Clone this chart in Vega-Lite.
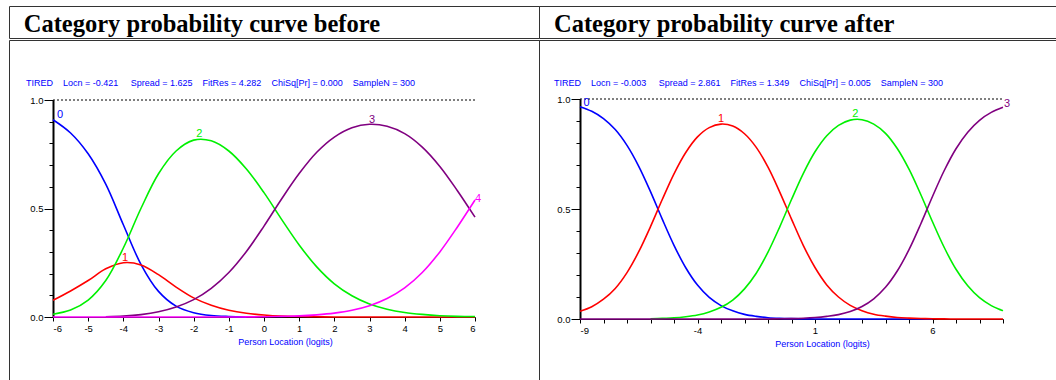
{
  "$schema": "https://vega.github.io/schema/vega-lite/v6.json",
  "background": "white",
  "padding": {"left": 8, "top": 5, "right": 0, "bottom": 0},
  "spacing": 0,
  "config": {
    "view": {"stroke": "#333333", "strokeWidth": 1},
    "concat": {"spacing": 0},
    "axis": {"grid": false, "labelFont": "Liberation Sans", "labelFontSize": 9.5, "labelColor": "black", "tickColor": "black", "domainColor": "black", "titleFont": "Liberation Sans"}
  },
  "datasets": {
    "before": [
      {"x": -6, "p": 0.909, "cat": "0"}, {"x": -5.5, "p": 0.848, "cat": "0"}, {"x": -5, "p": 0.752, "cat": "0"}, {"x": -4.5, "p": 0.612, "cat": "0"}, {"x": -4, "p": 0.425, "cat": "0"}, {"x": -3.5, "p": 0.243, "cat": "0"}, {"x": -3, "p": 0.118, "cat": "0"}, {"x": -2.5, "p": 0.05, "cat": "0"}, {"x": -2, "p": 0.02, "cat": "0"}, {"x": -1.5, "p": 0.007, "cat": "0"}, {"x": -1, "p": 0.0025, "cat": "0"}, {"x": -0.5, "p": 0.0008, "cat": "0"},
      {"x": -6, "p": 0.077, "cat": "1"}, {"x": -5.5, "p": 0.12, "cat": "1"}, {"x": -5, "p": 0.168, "cat": "1"}, {"x": -4.5, "p": 0.222, "cat": "1"}, {"x": -4, "p": 0.25, "cat": "1"}, {"x": -3.5, "p": 0.24, "cat": "1"}, {"x": -3, "p": 0.195, "cat": "1"}, {"x": -2.5, "p": 0.138, "cat": "1"}, {"x": -2, "p": 0.088, "cat": "1"}, {"x": -1.5, "p": 0.054, "cat": "1"}, {"x": -1, "p": 0.031, "cat": "1"}, {"x": -0.5, "p": 0.017, "cat": "1"}, {"x": 0, "p": 0.009, "cat": "1"}, {"x": 0.5, "p": 0.004, "cat": "1"}, {"x": 1, "p": 0.002, "cat": "1"}, {"x": 1.5, "p": 0.001, "cat": "1"}, {"x": 2, "p": 0, "cat": "1"}, {"x": 2.5, "p": 0, "cat": "1"}, {"x": 3, "p": 0, "cat": "1"}, {"x": 3.5, "p": 0, "cat": "1"}, {"x": 4, "p": 0, "cat": "1"}, {"x": 4.5, "p": 0, "cat": "1"}, {"x": 5, "p": 0, "cat": "1"}, {"x": 5.5, "p": 0, "cat": "1"}, {"x": 6, "p": 0, "cat": "1"},
      {"x": -6, "p": 0.013, "cat": "2"}, {"x": -5.5, "p": 0.032, "cat": "2"}, {"x": -5, "p": 0.078, "cat": "2"}, {"x": -4.5, "p": 0.168, "cat": "2"}, {"x": -4, "p": 0.318, "cat": "2"}, {"x": -3.5, "p": 0.5, "cat": "2"}, {"x": -3, "p": 0.66, "cat": "2"}, {"x": -2.5, "p": 0.765, "cat": "2"}, {"x": -2, "p": 0.815, "cat": "2"}, {"x": -1.5, "p": 0.812, "cat": "2"}, {"x": -1, "p": 0.765, "cat": "2"}, {"x": -0.5, "p": 0.682, "cat": "2"}, {"x": 0, "p": 0.573, "cat": "2"}, {"x": 0.5, "p": 0.45, "cat": "2"}, {"x": 1, "p": 0.332, "cat": "2"}, {"x": 1.5, "p": 0.231, "cat": "2"}, {"x": 2, "p": 0.153, "cat": "2"}, {"x": 2.5, "p": 0.098, "cat": "2"}, {"x": 3, "p": 0.06, "cat": "2"}, {"x": 3.5, "p": 0.036, "cat": "2"}, {"x": 4, "p": 0.021, "cat": "2"}, {"x": 4.5, "p": 0.012, "cat": "2"}, {"x": 5, "p": 0.006, "cat": "2"}, {"x": 5.5, "p": 0.003, "cat": "2"}, {"x": 6, "p": 0.002, "cat": "2"},
      {"x": -4.5, "p": 0.001, "cat": "3"}, {"x": -4, "p": 0.004, "cat": "3"}, {"x": -3.5, "p": 0.011, "cat": "3"}, {"x": -3, "p": 0.024, "cat": "3"}, {"x": -2.5, "p": 0.046, "cat": "3"}, {"x": -2, "p": 0.08, "cat": "3"}, {"x": -1.5, "p": 0.132, "cat": "3"}, {"x": -1, "p": 0.205, "cat": "3"}, {"x": -0.5, "p": 0.302, "cat": "3"}, {"x": 0, "p": 0.419, "cat": "3"}, {"x": 0.5, "p": 0.544, "cat": "3"}, {"x": 1, "p": 0.661, "cat": "3"}, {"x": 1.5, "p": 0.759, "cat": "3"}, {"x": 2, "p": 0.829, "cat": "3"}, {"x": 2.5, "p": 0.872, "cat": "3"}, {"x": 3, "p": 0.888, "cat": "3"}, {"x": 3.5, "p": 0.879, "cat": "3"}, {"x": 4, "p": 0.845, "cat": "3"}, {"x": 4.5, "p": 0.783, "cat": "3"}, {"x": 5, "p": 0.694, "cat": "3"}, {"x": 5.5, "p": 0.582, "cat": "3"}, {"x": 6, "p": 0.46, "cat": "3"},
      {"x": -6, "p": 0, "cat": "4"}, {"x": -5.5, "p": 0, "cat": "4"}, {"x": -5, "p": 0, "cat": "4"}, {"x": -4.5, "p": 0, "cat": "4"}, {"x": -4, "p": 0, "cat": "4"}, {"x": -3.5, "p": 0, "cat": "4"}, {"x": -3, "p": 0, "cat": "4"}, {"x": -2.5, "p": 0, "cat": "4"}, {"x": -2, "p": 0, "cat": "4"}, {"x": -1.5, "p": 0, "cat": "4"}, {"x": -1, "p": 0.0002, "cat": "4"}, {"x": -0.5, "p": 0.0005, "cat": "4"}, {"x": 0, "p": 0.001, "cat": "4"}, {"x": 0.5, "p": 0.003, "cat": "4"}, {"x": 1, "p": 0.005, "cat": "4"}, {"x": 1.5, "p": 0.01, "cat": "4"}, {"x": 2, "p": 0.018, "cat": "4"}, {"x": 2.5, "p": 0.031, "cat": "4"}, {"x": 3, "p": 0.052, "cat": "4"}, {"x": 3.5, "p": 0.085, "cat": "4"}, {"x": 4, "p": 0.134, "cat": "4"}, {"x": 4.5, "p": 0.205, "cat": "4"}, {"x": 5, "p": 0.3, "cat": "4"}, {"x": 5.5, "p": 0.415, "cat": "4"}, {"x": 6, "p": 0.539, "cat": "4"}
    ],
    "after": [
      {"x": -9, "p": 0.965, "cat": "0"}, {"x": -8.5, "p": 0.944, "cat": "0"}, {"x": -8, "p": 0.911, "cat": "0"}, {"x": -7.5, "p": 0.861, "cat": "0"}, {"x": -7, "p": 0.789, "cat": "0"}, {"x": -6.5, "p": 0.694, "cat": "0"}, {"x": -6, "p": 0.579, "cat": "0"}, {"x": -5.5, "p": 0.454, "cat": "0"}, {"x": -5, "p": 0.335, "cat": "0"}, {"x": -4.5, "p": 0.233, "cat": "0"}, {"x": -4, "p": 0.154, "cat": "0"}, {"x": -3.5, "p": 0.098, "cat": "0"}, {"x": -3, "p": 0.061, "cat": "0"}, {"x": -2.5, "p": 0.037, "cat": "0"}, {"x": -2, "p": 0.021, "cat": "0"}, {"x": -1.5, "p": 0.012, "cat": "0"}, {"x": -1, "p": 0.006, "cat": "0"}, {"x": -0.5, "p": 0.003, "cat": "0"}, {"x": 0, "p": 0.0015, "cat": "0"}, {"x": 0.5, "p": 0.0007, "cat": "0"}, {"x": 1, "p": 0.0003, "cat": "0"}, {"x": 1.5, "p": 0.0001, "cat": "0"}, {"x": 2, "p": 0, "cat": "0"}, {"x": 2.5, "p": 0, "cat": "0"}, {"x": 3, "p": 0, "cat": "0"}, {"x": 3.5, "p": 0, "cat": "0"}, {"x": 4, "p": 0, "cat": "0"}, {"x": 4.5, "p": 0, "cat": "0"}, {"x": 5, "p": 0, "cat": "0"}, {"x": 5.5, "p": 0, "cat": "0"}, {"x": 6, "p": 0, "cat": "0"},
      {"x": -9, "p": 0.035, "cat": "1"}, {"x": -8.5, "p": 0.056, "cat": "1"}, {"x": -8, "p": 0.09, "cat": "1"}, {"x": -7.5, "p": 0.139, "cat": "1"}, {"x": -7, "p": 0.211, "cat": "1"}, {"x": -6.5, "p": 0.306, "cat": "1"}, {"x": -6, "p": 0.42, "cat": "1"}, {"x": -5.5, "p": 0.543, "cat": "1"}, {"x": -5, "p": 0.66, "cat": "1"}, {"x": -4.5, "p": 0.757, "cat": "1"}, {"x": -4, "p": 0.828, "cat": "1"}, {"x": -3.5, "p": 0.87, "cat": "1"}, {"x": -3, "p": 0.886, "cat": "1"}, {"x": -2.5, "p": 0.877, "cat": "1"}, {"x": -2, "p": 0.842, "cat": "1"}, {"x": -1.5, "p": 0.78, "cat": "1"}, {"x": -1, "p": 0.69, "cat": "1"}, {"x": -0.5, "p": 0.577, "cat": "1"}, {"x": 0, "p": 0.454, "cat": "1"}, {"x": 0.5, "p": 0.335, "cat": "1"}, {"x": 1, "p": 0.234, "cat": "1"}, {"x": 1.5, "p": 0.155, "cat": "1"}, {"x": 2, "p": 0.1, "cat": "1"}, {"x": 2.5, "p": 0.062, "cat": "1"}, {"x": 3, "p": 0.038, "cat": "1"}, {"x": 3.5, "p": 0.022, "cat": "1"}, {"x": 4, "p": 0.013, "cat": "1"}, {"x": 4.5, "p": 0.007, "cat": "1"}, {"x": 5, "p": 0.004, "cat": "1"}, {"x": 5.5, "p": 0.002, "cat": "1"}, {"x": 6, "p": 0.001, "cat": "1"}, {"x": 6.5, "p": 0.0004, "cat": "1"}, {"x": 7, "p": 0.0002, "cat": "1"}, {"x": 7.5, "p": 0.0001, "cat": "1"}, {"x": 8, "p": 0, "cat": "1"}, {"x": 8.5, "p": 0, "cat": "1"}, {"x": 9, "p": 0, "cat": "1"},
      {"x": -6, "p": 0.001, "cat": "2"}, {"x": -5.5, "p": 0.003, "cat": "2"}, {"x": -5, "p": 0.005, "cat": "2"}, {"x": -4.5, "p": 0.01, "cat": "2"}, {"x": -4, "p": 0.018, "cat": "2"}, {"x": -3.5, "p": 0.032, "cat": "2"}, {"x": -3, "p": 0.053, "cat": "2"}, {"x": -2.5, "p": 0.086, "cat": "2"}, {"x": -2, "p": 0.137, "cat": "2"}, {"x": -1.5, "p": 0.208, "cat": "2"}, {"x": -1, "p": 0.304, "cat": "2"}, {"x": -0.5, "p": 0.419, "cat": "2"}, {"x": 0, "p": 0.543, "cat": "2"}, {"x": 0.5, "p": 0.661, "cat": "2"}, {"x": 1, "p": 0.76, "cat": "2"}, {"x": 1.5, "p": 0.833, "cat": "2"}, {"x": 2, "p": 0.88, "cat": "2"}, {"x": 2.5, "p": 0.904, "cat": "2"}, {"x": 3, "p": 0.906, "cat": "2"}, {"x": 3.5, "p": 0.886, "cat": "2"}, {"x": 4, "p": 0.844, "cat": "2"}, {"x": 4.5, "p": 0.775, "cat": "2"}, {"x": 5, "p": 0.681, "cat": "2"}, {"x": 5.5, "p": 0.566, "cat": "2"}, {"x": 6, "p": 0.442, "cat": "2"}, {"x": 6.5, "p": 0.325, "cat": "2"}, {"x": 7, "p": 0.226, "cat": "2"}, {"x": 7.5, "p": 0.151, "cat": "2"}, {"x": 8, "p": 0.097, "cat": "2"}, {"x": 8.5, "p": 0.061, "cat": "2"}, {"x": 9, "p": 0.038, "cat": "2"},
      {"x": -9, "p": 0, "cat": "3"}, {"x": -8.5, "p": 0, "cat": "3"}, {"x": -8, "p": 0, "cat": "3"}, {"x": -7.5, "p": 0, "cat": "3"}, {"x": -7, "p": 0, "cat": "3"}, {"x": -6.5, "p": 0, "cat": "3"}, {"x": -6, "p": 0, "cat": "3"}, {"x": -5.5, "p": 0, "cat": "3"}, {"x": -5, "p": 0, "cat": "3"}, {"x": -4.5, "p": 0, "cat": "3"}, {"x": -4, "p": 0, "cat": "3"}, {"x": -3.5, "p": 0, "cat": "3"}, {"x": -3, "p": 0, "cat": "3"}, {"x": -2.5, "p": 0, "cat": "3"}, {"x": -2, "p": 0.0001, "cat": "3"}, {"x": -1.5, "p": 0.0001, "cat": "3"}, {"x": -1, "p": 0.0003, "cat": "3"}, {"x": -0.5, "p": 0.0008, "cat": "3"}, {"x": 0, "p": 0.0017, "cat": "3"}, {"x": 0.5, "p": 0.0034, "cat": "3"}, {"x": 1, "p": 0.0065, "cat": "3"}, {"x": 1.5, "p": 0.012, "cat": "3"}, {"x": 2, "p": 0.02, "cat": "3"}, {"x": 2.5, "p": 0.034, "cat": "3"}, {"x": 3, "p": 0.057, "cat": "3"}, {"x": 3.5, "p": 0.092, "cat": "3"}, {"x": 4, "p": 0.144, "cat": "3"}, {"x": 4.5, "p": 0.218, "cat": "3"}, {"x": 5, "p": 0.315, "cat": "3"}, {"x": 5.5, "p": 0.432, "cat": "3"}, {"x": 6, "p": 0.557, "cat": "3"}, {"x": 6.5, "p": 0.675, "cat": "3"}, {"x": 7, "p": 0.774, "cat": "3"}, {"x": 7.5, "p": 0.849, "cat": "3"}, {"x": 8, "p": 0.903, "cat": "3"}, {"x": 8.5, "p": 0.939, "cat": "3"}, {"x": 9, "p": 0.962, "cat": "3"}
    ],
    "beforeLabels": [
      {"x": -5.8, "p": 0.93, "cat": "0"}, {"x": -3.95, "p": 0.273, "cat": "1"}, {"x": -1.84, "p": 0.845, "cat": "2"}, {"x": 3.07, "p": 0.906, "cat": "3"}, {"x": 6.09, "p": 0.542, "cat": "4"}
    ],
    "afterLabels": [
      {"x": -8.72, "p": 0.983, "cat": "0"}, {"x": -3.0, "p": 0.908, "cat": "1"}, {"x": 2.72, "p": 0.93, "cat": "2"}, {"x": 9.17, "p": 0.976, "cat": "3"}
    ]
  },
  "vconcat": [
    {
      "spacing": 0,
      "bounds": "flush",
      "hconcat": [
        {
          "width": 530, "height": 32,
          "data": {"values": [{"h": "Category probability curve before"}]},
          "mark": {"type": "text", "align": "left", "baseline": "alphabetic", "dx": 14.7, "dy": -6.3, "font": "Liberation Serif", "fontSize": 24.5, "fontWeight": "bold", "color": "black"},
          "encoding": {
            "x": {"datum": 0, "type": "quantitative", "scale": {"domain": [0, 1]}, "axis": null},
            "y": {"datum": 0, "type": "quantitative", "scale": {"domain": [0, 1]}, "axis": null},
            "text": {"field": "h"}
          }
        },
        {
          "width": 530, "height": 32,
          "data": {"values": [{"h": "Category probability curve after"}]},
          "mark": {"type": "text", "align": "left", "baseline": "alphabetic", "dx": 15, "dy": -6.3, "font": "Liberation Serif", "fontSize": 24.5, "fontWeight": "bold", "color": "black"},
          "encoding": {
            "x": {"datum": 0, "type": "quantitative", "scale": {"domain": [0, 1]}, "axis": null},
            "y": {"datum": 0, "type": "quantitative", "scale": {"domain": [0, 1]}, "axis": null},
            "text": {"field": "h"}
          }
        }
      ]
    },
    {
      "spacing": 0,
      "bounds": "flush",
      "hconcat": [
        {
          "width": 530, "height": 345,
          "resolve": {"axis": {"y": "independent"}},
          "layer": [
            {
              "data": {"values": [{}]},
              "mark": {"type": "rule", "strokeDash": [2, 2], "color": "black", "strokeWidth": 1},
              "encoding": {
                "x": {"datum": -6, "type": "quantitative", "scale": {"domain": [-6, 6], "range": [44, 466], "nice": false, "zero": false},
                      "axis": {"values": [-6, -5, -4, -3, -2, -1, 0, 1, 2, 3, 4, 5, 6], "labelExpr": "'' + datum.value", "tickSize": 4, "labelPadding": 2, "offset": -68, "domainWidth": 1,
                               "title": "Person Location (logits)", "titleColor": "#0000ff", "titleFontWeight": "normal", "titleFontSize": 9, "titleX": 276, "titleY": 24, "titleBaseline": "middle"}},
                "x2": {"datum": 6},
                "y": {"datum": 1, "type": "quantitative", "scale": {"domain": [0, 1], "range": [277, 60], "nice": false, "zero": false},
                      "axis": {"orient": "left", "values": [0, 0.1, 0.2, 0.3, 0.4, 0.5, 0.6, 0.7, 0.8, 0.9, 1], "tickSize": 4, "labels": false, "domain": false, "offset": -44, "title": null}}
              }
            },
            {
              "data": {"name": "before"},
              "mark": {"type": "line", "interpolate": "catmull-rom", "strokeWidth": 1.6},
              "encoding": {
                "x": {"field": "x", "type": "quantitative", "scale": {"domain": [-6, 6], "range": [44, 466], "nice": false, "zero": false},
                      "axis": {"values": [-6, -5, -4, -3, -2, -1, 0, 1, 2, 3, 4, 5, 6], "labelExpr": "'' + datum.value", "tickSize": 4, "labelPadding": 2, "offset": -68, "domainWidth": 1,
                               "title": "Person Location (logits)", "titleColor": "#0000ff", "titleFontWeight": "normal", "titleFontSize": 9, "titleX": 276, "titleY": 24, "titleBaseline": "middle"}},
                "y": {"field": "p", "type": "quantitative", "scale": {"domain": [0, 1], "range": [277, 60], "nice": false, "zero": false},
                      "axis": {"orient": "left", "values": [0, 0.5, 1], "format": ".1f", "tickSize": 9, "labelPadding": 1, "domainWidth": 2, "offset": -44, "title": null}},
                "color": {"field": "cat", "type": "nominal", "scale": {"domain": ["0", "1", "2", "3", "4"], "range": ["#0000ff", "#ff0000", "#00f000", "#800080", "#ff00ff"]}, "legend": null}
              }
            },
            {
              "data": {"name": "beforeLabels"},
              "mark": {"type": "text", "font": "Liberation Sans", "fontSize": 11, "align": "center", "baseline": "middle"},
              "encoding": {
                "x": {"field": "x", "type": "quantitative",
                      "axis": {"values": [-6, -5, -4, -3, -2, -1, 0, 1, 2, 3, 4, 5, 6], "labelExpr": "'' + datum.value", "tickSize": 4, "labelPadding": 2, "offset": -68, "domainWidth": 1,
                               "title": "Person Location (logits)", "titleColor": "#0000ff", "titleFontWeight": "normal", "titleFontSize": 9, "titleX": 276, "titleY": 24, "titleBaseline": "middle"}},
                "y": {"field": "p", "type": "quantitative", "axis": null},
                "text": {"field": "cat"},
                "color": {"field": "cat", "type": "nominal", "legend": null}
              }
            },
            {
              "data": {"values": [{"s": "TIRED\u00a0\u00a0\u00a0\u00a0Locn = -0.421\u00a0\u00a0\u00a0\u00a0\u00a0Spread = 1.625\u00a0\u00a0\u00a0\u00a0FitRes = 4.282\u00a0\u00a0\u00a0\u00a0ChiSq[Pr] = 0.000\u00a0\u00a0\u00a0\u00a0SampleN = 300"}]},
              "mark": {"type": "text", "align": "left", "baseline": "middle", "dx": -248, "dy": -129.8, "font": "Liberation Sans", "fontSize": 9, "color": "#0000ff"},
              "encoding": {"text": {"field": "s"}}
            }
          ]
        },
        {
          "width": 530, "height": 345,
          "resolve": {"axis": {"y": "independent"}},
          "layer": [
            {
              "data": {"values": [{}]},
              "mark": {"type": "rule", "strokeDash": [2, 2], "color": "black", "strokeWidth": 1},
              "encoding": {
                "x": {"datum": -9, "type": "quantitative", "scale": {"domain": [-9, 9], "range": [41, 464], "nice": false, "zero": false},
                      "axis": {"values": [-9, -8, -7, -6, -5, -4, -3, -2, -1, 0, 1, 2, 3, 4, 5, 6, 7, 8, 9], "labelExpr": "indexof([-9, -4, 1, 6], datum.value) >= 0 ? '' + datum.value : ''", "tickSize": 4, "labelPadding": 2, "offset": -66, "domainWidth": 1,
                               "title": "Person Location (logits)", "titleColor": "#0000ff", "titleFontWeight": "normal", "titleFontSize": 9, "titleX": 283, "titleY": 24, "titleBaseline": "middle"}},
                "x2": {"datum": 9},
                "y": {"datum": 1, "type": "quantitative", "scale": {"domain": [0, 1], "range": [279, 59], "nice": false, "zero": false},
                      "axis": {"orient": "left", "values": [0, 0.1, 0.2, 0.3, 0.4, 0.5, 0.6, 0.7, 0.8, 0.9, 1], "tickSize": 4, "labels": false, "domain": false, "offset": -41, "title": null}}
              }
            },
            {
              "data": {"name": "after"},
              "mark": {"type": "line", "interpolate": "catmull-rom", "strokeWidth": 1.6},
              "encoding": {
                "x": {"field": "x", "type": "quantitative", "scale": {"domain": [-9, 9], "range": [41, 464], "nice": false, "zero": false},
                      "axis": {"values": [-9, -8, -7, -6, -5, -4, -3, -2, -1, 0, 1, 2, 3, 4, 5, 6, 7, 8, 9], "labelExpr": "indexof([-9, -4, 1, 6], datum.value) >= 0 ? '' + datum.value : ''", "tickSize": 4, "labelPadding": 2, "offset": -66, "domainWidth": 1,
                               "title": "Person Location (logits)", "titleColor": "#0000ff", "titleFontWeight": "normal", "titleFontSize": 9, "titleX": 283, "titleY": 24, "titleBaseline": "middle"}},
                "y": {"field": "p", "type": "quantitative", "scale": {"domain": [0, 1], "range": [279, 59], "nice": false, "zero": false},
                      "axis": {"orient": "left", "values": [0, 0.5, 1], "format": ".1f", "tickSize": 9, "labelPadding": 1, "domainWidth": 2, "offset": -41, "title": null}},
                "color": {"field": "cat", "type": "nominal", "scale": {"domain": ["0", "1", "2", "3"], "range": ["#0000ff", "#ff0000", "#00f000", "#800080"]}, "legend": null}
              }
            },
            {
              "data": {"name": "afterLabels"},
              "mark": {"type": "text", "font": "Liberation Sans", "fontSize": 11, "align": "center", "baseline": "middle"},
              "encoding": {
                "x": {"field": "x", "type": "quantitative",
                      "axis": {"values": [-9, -8, -7, -6, -5, -4, -3, -2, -1, 0, 1, 2, 3, 4, 5, 6, 7, 8, 9], "labelExpr": "indexof([-9, -4, 1, 6], datum.value) >= 0 ? '' + datum.value : ''", "tickSize": 4, "labelPadding": 2, "offset": -66, "domainWidth": 1,
                               "title": "Person Location (logits)", "titleColor": "#0000ff", "titleFontWeight": "normal", "titleFontSize": 9, "titleX": 283, "titleY": 24, "titleBaseline": "middle"}},
                "y": {"field": "p", "type": "quantitative", "axis": null},
                "text": {"field": "cat"},
                "color": {"field": "cat", "type": "nominal", "legend": null}
              }
            },
            {
              "data": {"values": [{"s": "TIRED\u00a0\u00a0\u00a0\u00a0Locn = -0.003\u00a0\u00a0\u00a0\u00a0\u00a0Spread = 2.861\u00a0\u00a0\u00a0\u00a0FitRes = 1.349\u00a0\u00a0\u00a0\u00a0ChiSq[Pr] = 0.005\u00a0\u00a0\u00a0\u00a0SampleN = 300"}]},
              "mark": {"type": "text", "align": "left", "baseline": "middle", "dx": -250, "dy": -129.8, "font": "Liberation Sans", "fontSize": 9, "color": "#0000ff"},
              "encoding": {"text": {"field": "s"}}
            }
          ]
        }
      ]
    }
  ]
}
